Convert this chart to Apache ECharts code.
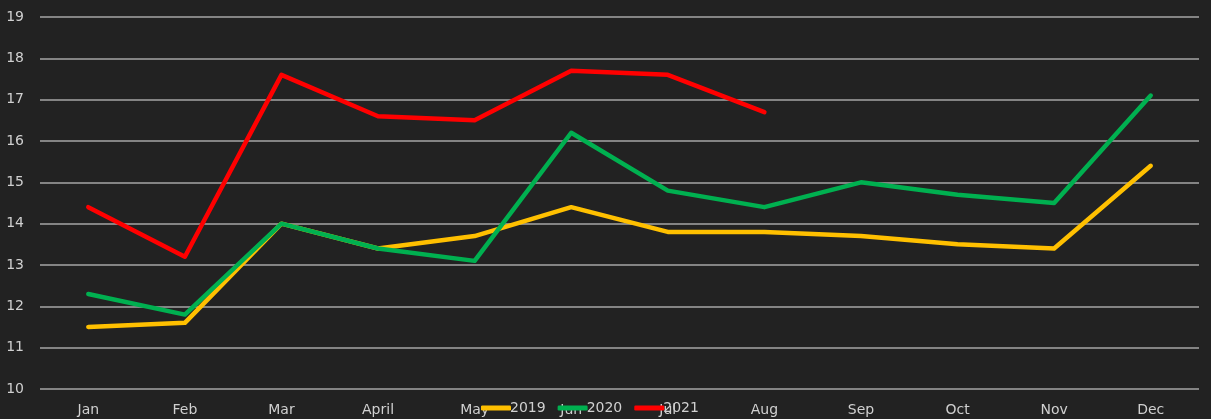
<!DOCTYPE html>
<html>
<head>
<meta charset="utf-8">
<script src="https://cdn.jsdelivr.net/npm/echarts@6/dist/echarts.min.js"></script>
<style>
  html, body { margin: 0; padding: 0; background: #222222; }
  #chart { width: 1211px; height: 419px; }
</style>
</head>
<body>
<div id="chart"></div>
<script>
// values
const months = ['Jan', 'Feb', 'Mar', 'April', 'May', 'Jun', 'Jul', 'Aug', 'Sep', 'Oct', 'Nov', 'Dec'];
const y2019 = [11.5, 11.6, 14.0, 13.4, 13.7, 14.4, 13.8, 13.8, 13.7, 13.5, 13.4, 15.4];
const y2020 = [12.3, 11.8, 14.0, 13.4, 13.1, 16.2, 14.8, 14.4, 15.0, 14.7, 14.5, 17.1];
const y2021 = [14.4, 13.2, 17.6, 16.6, 16.5, 17.7, 17.6, 16.7];

const font = '"DejaVu Sans", sans-serif';

function lineSeries(name, data, color) {
    return {
        name: name,
        type: 'line',
        data: data,
        symbol: 'none',
        lineStyle: { color: color, width: 4.5, cap: 'round', join: 'round' },
        itemStyle: { color: color }
    };
}

const chart = echarts.init(document.getElementById('chart'));
chart.setOption({
    backgroundColor: '#222222',
    animation: false,
    grid: { left: 40, right: 12, top: 17, bottom: 30 },
    legend: {
        bottom: -1,
        left: 476,
        itemWidth: 30,
        itemHeight: 5,
        itemGap: 12,
        icon: 'roundRect',
        textStyle: { color: '#d0d0d0', fontSize: 14, fontFamily: font, padding: [0, 0, 0, -6] },
        data: ['2019', '2020', '2021']
    },
    xAxis: {
        type: 'category',
        data: months,
        boundaryGap: true,
        axisLine: { show: false },
        axisTick: { show: false },
        axisLabel: { color: '#d0d0d0', fontSize: 14, fontFamily: font, margin: 14 }
    },
    yAxis: {
        type: 'value',
        min: 10,
        max: 19,
        interval: 1,
        axisLine: { show: false },
        axisTick: { show: false },
        axisLabel: { color: '#d0d0d0', fontSize: 14, fontFamily: font, margin: 16 },
        splitLine: { lineStyle: { color: '#a6a6a6', width: 1.5 } }
    },
    series: [
        lineSeries('2019', y2019, '#ffc000'),
        lineSeries('2020', y2020, '#00b050'),
        lineSeries('2021', y2021, '#ff0000')
    ]
});
</script>
</body>
</html>
